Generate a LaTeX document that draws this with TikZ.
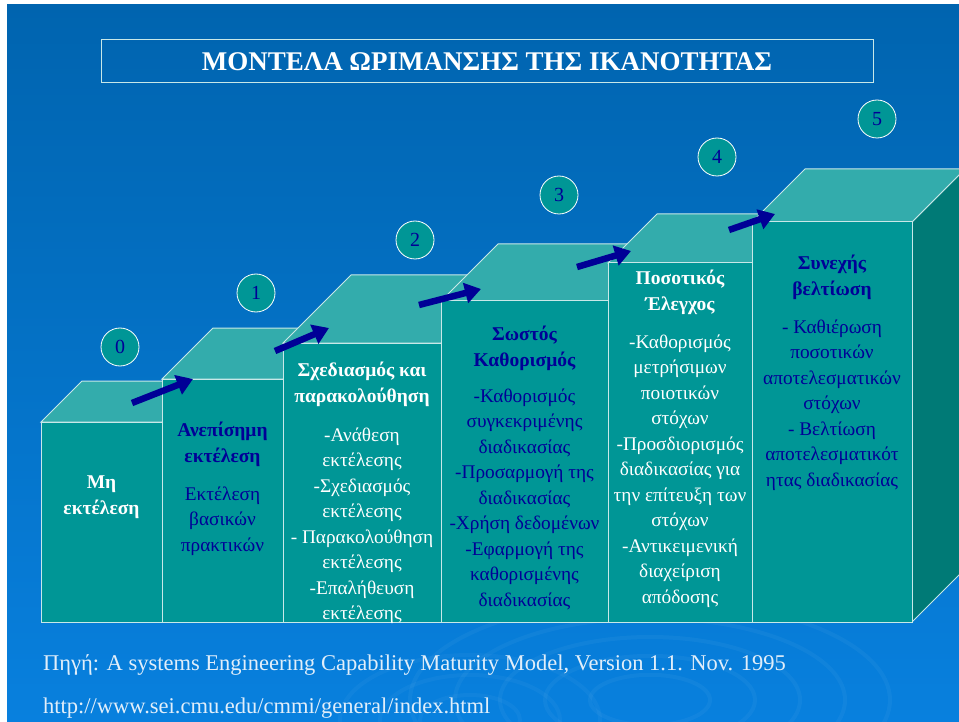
\documentclass[tikz,border=0pt]{standalone}
\usepackage{fontspec}
\setmainfont{Liberation Serif}
\usetikzlibrary{arrows.meta}
\definecolor{slidetop}{RGB}{0,100,175}
\definecolor{slidebot}{RGB}{8,128,222}
\definecolor{frontc}{RGB}{0,150,150}
\definecolor{topc}{RGB}{51,172,172}
\definecolor{sidec}{RGB}{0,122,118}
\definecolor{edgec}{RGB}{200,232,232}
\definecolor{navy}{RGB}{0,0,150}
\definecolor{paleink}{RGB}{225,238,250}
% cube step: left x, right x, top y, depth
\newcommand\cubestep[4]{%
  \draw[steptop] (#1,#3) -- ++(#4,-#4) -- (#2+#4,#3-#4) -- (#2,#3) -- cycle;
  \draw[stepfront] (#1,#3) rectangle (#2,622);}

\tikzset{
  stepfront/.style={fill=frontc,draw=edgec,line width=1pt},
  steptop/.style={fill=topc,draw=edgec,line width=1pt},
  stepside/.style={fill=sidec,draw=edgec,line width=1pt},
  lvl/.style={circle,fill=frontc,draw=white,line width=0.8pt,minimum size=38pt,inner sep=0pt,text=navy,font=\fontsize{20}{24}\selectfont},
  stephead/.style={align=center,anchor=base,inner sep=0pt,font=\fontsize{19.5}{26}\selectfont\bfseries},
  steptext/.style={align=center,anchor=base,inner sep=0pt,font=\fontsize{19.3}{25.5}\selectfont},
  climb/.style={navy,line width=6.5pt,-{Triangle[length=16pt,width=20pt]}},
}

\begin{document}
\begin{tikzpicture}[x=1pt,y=-1pt]

\useasboundingbox (0,0) rectangle (959,722);
\fill[white] (0,0) rectangle (959,722);
\shade[top color=slidetop,bottom color=slidebot] (7,5) rectangle (959,722);

% ripples
\begin{scope}
\clip (7,5) rectangle (959,722);
\foreach \r in {60,105,150,195,240}
  \draw[white,opacity=0.04,line width=4pt] (650,700) ellipse ({\r} and {\r*0.42});
\foreach \r in {50,90,130}
  \draw[white,opacity=0.035,line width=4pt] (470,720) ellipse ({\r} and {\r*0.5});
\end{scope}

% title
\node[draw=edgec,line width=1pt,minimum width=772pt,minimum height=43pt,inner sep=0pt,text=white,font=\fontsize{27}{30}\selectfont\bfseries] (title) at (487,61.5) {ΜΟΝΤΕΛΑ ΩΡΙΜΑΝΣΗΣ ΤΗΣ ΙΚΑΝΟΤΗΤΑΣ};

% steps
\cubestep{41}{162}{422}{41}
\cubestep{162}{283}{379}{51}
\cubestep{283}{441}{343}{68}
\cubestep{441}{608}{301}{57}
\cubestep{608}{752}{263}{49}
\draw[stepside] (912,222) -- (965,169) -- (965,569) -- (912,622) -- cycle;
\cubestep{752}{912}{222}{53}

% levels
\node[lvl] (lvl0) at (120,347) {0};
\node[lvl] (lvl1) at (256,293) {1};
\node[lvl] (lvl2) at (415,240) {2};
\node[lvl] (lvl3) at (559,195) {3};
\node[lvl] (lvl4) at (717,157) {4};
\node[lvl] (lvl5) at (877,119) {5};

% arrows
\coordinate (a0) at (132,403); \coordinate (b0) at (193,379);
\coordinate (a1) at (275,351); \coordinate (b1) at (329,328);
\coordinate (a2) at (419,305); \coordinate (b2) at (481,289);
\coordinate (a3) at (577,267); \coordinate (b3) at (631,251);
\coordinate (a4) at (729,230); \coordinate (b4) at (775,214);
\draw[climb] (a0) -- (b0);
\draw[climb] (a1) -- (b1);
\draw[climb] (a2) -- (b2);
\draw[climb] (a3) -- (b3);
\draw[climb] (a4) -- (b4);

% step texts (placed at the baseline of their last line)
\node[stephead,text=white] (head0) at (101.5,514) {Μη\\εκτέλεση};

\node[stephead,text=navy] (head1) at (222.5,462) {Ανεπίσημη\\εκτέλεση};
\node[steptext,text=navy] (text1) at (222.5,551) {Εκτέλεση\\βασικών\\πρακτικών};

\node[stephead,text=white] (head2) at (362,402) {Σχεδιασμός και\\παρακολούθηση};
\node[steptext,text=white] (text2) at (362,619.5) {-Ανάθεση\\εκτέλεσης\\-Σχεδιασμός\\εκτέλεσης\\- Παρακολούθηση\\εκτέλεσης\\-Επαλήθευση\\εκτέλεσης};

\node[stephead,text=navy] (head3) at (524.5,366) {Σωστός\\Καθορισμός};
\node[steptext,text=navy] (text3) at (524.5,606) {-Καθορισμός\\συγκεκριμένης\\διαδικασίας\\-Προσαρμογή της\\διαδικασίας\\-Χρήση δεδομένων\\-Εφαρμογή της\\καθορισμένης\\διαδικασίας};

\node[stephead,text=white] (head4) at (680,311) {Ποσοτικός\\Έλεγχος};
\node[steptext,text=white] (text4) at (680,603) {-Καθορισμός\\μετρήσιμων\\ποιοτικών\\στόχων\\-Προσδιορισμός\\διαδικασίας για\\την επίτευξη των\\στόχων\\-Αντικειμενική\\διαχείριση\\απόδοσης};

\node[stephead,text=navy] (head5) at (832,296) {Συνεχής\\βελτίωση};
\node[steptext,text=navy] (text5) at (832,486) {- Καθιέρωση\\ποσοτικών\\αποτελεσματικών\\στόχων\\- Βελτίωση\\αποτελεσματικότ\\ητας διαδικασίας};

% source
\node[anchor=base west,inner sep=0pt,text=paleink,font=\fontsize{22.5}{25}\selectfont] (src) at (43,670) {Πηγή: A systems Engineering Capability Maturity Model, Version 1.1. Nov. 1995};
\node[anchor=base west,inner sep=0pt,text=paleink,font=\fontsize{22.5}{25}\selectfont] (url) at (43,713) {http://www.sei.cmu.edu/cmmi/general/index.html};

\end{tikzpicture}
\end{document}
